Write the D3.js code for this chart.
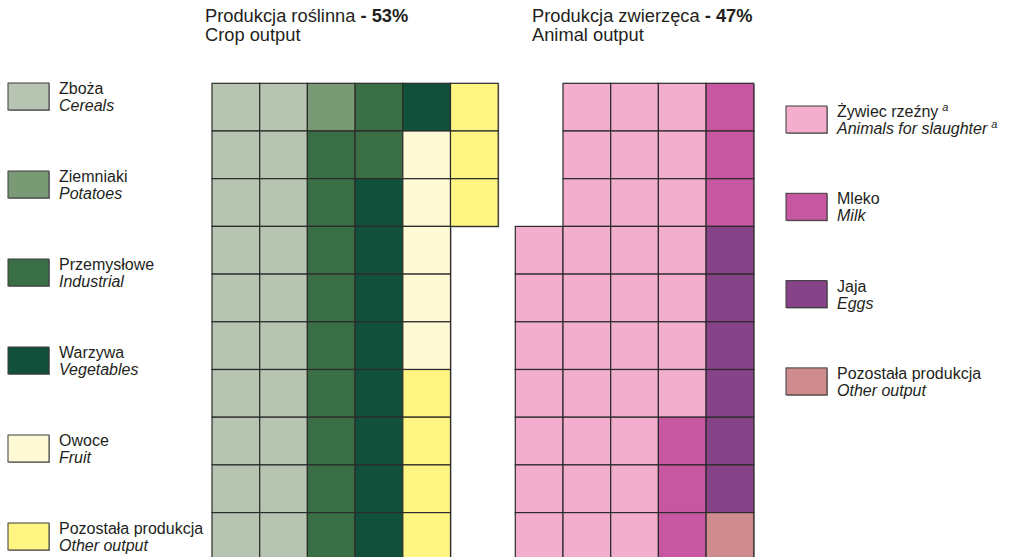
<!DOCTYPE html>
<html>
<head>
<meta charset="utf-8">
<script src="https://cdn.jsdelivr.net/npm/d3@7"></script>
<style>
  body { margin: 0; background: #fff; }
  text { font-family: "Liberation Sans", Arial, sans-serif; fill: #231f20; }
</style>
</head>
<body>
<div id="chart"></div>
<script>
//Canvas dimensions
var width = 1013,
    height = 557;

//Crop output (53 cells of 100)
var cropNamesPl = ["Zboża", "Ziemniaki", "Przemysłowe", "Warzywa", "Owoce", "Pozostała produkcja"];
var cropNamesEn = ["Cereals", "Potatoes", "Industrial", "Vegetables", "Fruit", "Other output"];
var cropCounts = [20, 1, 11, 9, 5, 7];
var cropColors = ["#b7c4b1", "#7a9a76", "#3a6e45", "#11503a", "#fffad6", "#fff583"];

//Animal output (47 cells of 100)
var animalNamesPl = ["Żywiec rzeźny", "Mleko", "Jaja", "Pozostała produkcja"];
var animalNamesEn = ["Animals for slaughter", "Milk", "Eggs", "Other output"];
var animalCounts = [34, 6, 6, 1];
var animalColors = ["#f3aecd", "#c757a0", "#864387", "#cf8c8f"];

var rowsPerCol = 10;
var cell = 47.7;

var svg = d3.select("#chart")
            .append("svg")
            .attr("width", width)
            .attr("height", height);

//Titles
function title(x, pl, pct, en) {
  var t = svg.append("text").attr("x", x).attr("y", 22).style("font-size", "18.3px");
  t.append("tspan").text(pl + " ");
  t.append("tspan").style("font-weight", "bold").text("- " + pct);
  svg.append("text").attr("x", x).attr("y", 41).style("font-size", "18.3px").text(en);
}
title(205, "Produkcja roślinna", d3.sum(cropCounts) + "%", "Crop output");
title(532, "Produkcja zwierzęca", d3.sum(animalCounts) + "%", "Animal output");

//Build cell list from counts, filled column by column, top to bottom
function buildCells(counts, offset) {
  var cells = [];
  var i = offset;
  counts.forEach(function(n, k) {
    for (var j = 0; j < n; j++) {
      cells.push({cat: k, col: Math.floor(i / rowsPerCol), row: i % rowsPerCol});
      i++;
    }
  });
  return cells;
}

var y = d3.scaleBand().domain(d3.range(rowsPerCol)).range([83.3, 83.3 + rowsPerCol * cell]);

function drawWaffle(cells, x0, nCols, colors) {
  var x = d3.scaleBand().domain(d3.range(nCols)).range([x0, x0 + nCols * cell]);
  var g = svg.append("g");
  //soft shadow
  g.selectAll(".shadow")
   .data(cells)
   .enter()
   .append("rect")
   .attr("x", function(d) { return x(d.col) + 1; })
   .attr("y", function(d) { return y(d.row) + 1; })
   .attr("width", x.bandwidth())
   .attr("height", y.bandwidth())
   .attr("fill", "#9a9a9a");
  g.selectAll(".cell")
   .data(cells)
   .enter()
   .append("rect")
   .attr("class", "cell")
   .attr("x", function(d) { return x(d.col); })
   .attr("y", function(d) { return y(d.row); })
   .attr("width", x.bandwidth())
   .attr("height", y.bandwidth())
   .attr("fill", function(d) { return colors[d.cat]; })
   .attr("stroke", "#2b2b2b")
   .attr("stroke-width", 1.2);
}

var totalCells = rowsPerCol * 5;
drawWaffle(buildCells(cropCounts, 0), 212, 6, cropColors);
drawWaffle(buildCells(animalCounts, totalCells - d3.sum(animalCounts)), 515.3, 5, animalColors);

//Legends
function legend(x, y0, step, namesPl, namesEn, colors, sup) {
  var items = svg.selectAll(null)
                 .data(namesPl)
                 .enter()
                 .append("g")
                 .attr("transform", function(d, i) { return "translate(" + x + "," + (y0 + i * step) + ")"; });
  items.append("rect")
       .attr("x", 1).attr("y", 1)
       .attr("width", 41).attr("height", 27)
       .attr("fill", "#9a9a9a");
  items.append("rect")
       .attr("width", 41).attr("height", 27)
       .attr("fill", function(d, i) { return colors[i]; })
       .attr("stroke", "#3a3a3a")
       .attr("stroke-width", 1);
  var t1 = items.append("text")
       .attr("x", 51).attr("y", 11)
       .style("font-size", "16px")
       .text(function(d) { return d; });
  var t2 = items.append("text")
       .attr("x", 51).attr("y", 28)
       .style("font-size", "16px")
       .style("font-style", "italic")
       .text(function(d, i) { return namesEn[i]; });
  if (sup) {
    [t1, t2].forEach(function(t) {
      t.filter(function(d, i) { return i === 0; })
       .append("tspan")
       .attr("dx", 4).attr("dy", -6)
       .style("font-size", "11px")
       .style("font-style", "italic")
       .text("a");
    });
  }
}
legend(8, 83, 88, cropNamesPl, cropNamesEn, cropColors, false);
legend(786, 106, 87.3, animalNamesPl, animalNamesEn, animalColors, true);
</script>
</body>
</html>
